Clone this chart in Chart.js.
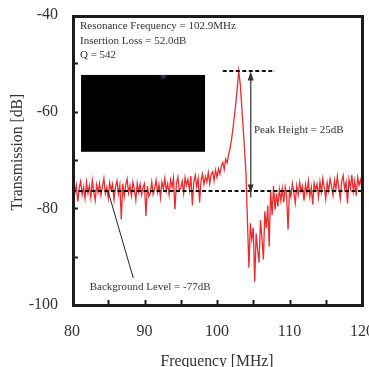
<!DOCTYPE html>
<html><head><meta charset="utf-8">
<script src="https://cdn.jsdelivr.net/npm/chart.js@4.4.0/dist/chart.umd.min.js"></script>
<style>html,body{margin:0;padding:0;overflow:hidden;background:#fff;width:369px;height:367px}
#wrap{position:absolute;left:0;top:0;width:390px;height:380px}</style>
</head><body><div id="wrap"><canvas id="c" width="390" height="380"></canvas></div>
<script>
// ---- data ----
const freqStartMHz = 80;
const freqStepMHz = 0.2;
const transmissionDb = [
  -77.5,-73.0,-76.8,-75.2,-78.6,-75.8,-74.4,-77.2,-75.6,-78.0,
  -74.6,-76.9,-75.3,-77.8,-74.2,-76.5,-78.4,-75.1,-76.7,-74.8,
  -77.3,-75.4,-73.8,-76.9,-75.6,-77.9,-74.7,-76.2,-75.0,-78.2,
  -75.5,-74.3,-77.0,-75.2,-82.3,-74.9,-77.6,-75.2,-73.9,-76.8,
  -75.3,-77.4,-74.6,-76.1,-78.3,-74.8,-76.6,-75.0,-77.2,-75.7,
  -74.9,-81.6,-75.4,-77.5,-76.8,-74.5,-77.1,-75.9,-74.2,-76.7,
  -75.1,-77.8,-74.6,-75.9,-73.8,-76.4,-74.9,-77.2,-74.1,-75.6,
  -73.7,-80.2,-75.0,-73.5,-76.3,-75.8,-74.4,-76.9,-73.6,-75.2,
  -74.0,-76.2,-73.3,-79.4,-74.6,-73.1,-75.5,-73.8,-78.8,-74.2,
  -72.9,-75.0,-73.4,-74.6,-72.6,-74.9,-73.0,-72.4,-74.3,-72.1,
  -73.6,-71.8,-72.9,-71.2,-70.5,-71.9,-69.8,-70.6,-68.9,-67.6,
  -65.8,-63.5,-61.0,-58.2,-55.0,-51.6,-54.2,-58.6,-63.2,-67.8,
  -72.8,-82.6,-92.3,-83.1,-86.4,-84.0,-95.2,-85.2,-88.6,-91.2,
  -82.4,-86.2,-90.6,-80.6,-84.1,-79.4,-87.9,-76.2,-81.4,-75.4,
  -80.3,-76.9,-79.6,-76.1,-78.4,-75.9,-78.8,-75.6,-77.3,-84.4,
  -76.2,-77.6,-74.9,-76.8,-78.9,-75.3,-77.2,-74.6,-76.5,-75.4,
  -78.4,-75.1,-76.9,-74.3,-77.6,-75.6,-79.2,-74.8,-76.3,-75.0,
  -77.7,-74.5,-76.6,-73.8,-75.9,-78.1,-74.7,-76.4,-73.9,-75.5,
  -77.3,-74.2,-76.0,-73.4,-75.7,-78.0,-74.4,-73.2,-76.1,-74.6,
  -79.0,-74.0,-75.8,-73.1,-76.5,-74.3,-77.4,-73.6,-75.2,-74.1,
  -76.0
];
const backgroundLevelDb = -76.4;
const peakLevelDb = -51.6;
const peakLineMHz = [100.8, 108.0];
const xRangeMHz = [80, 120];
const yRangeDb = [-100, -40];
const xLabelTicks = [80, 90, 100, 110, 120];
const yLabelTicks = [-40, -60, -80, -100];
const infoLines = ['Resonance Frequency = 102.9MHz', 'Insertion Loss = 52.0dB', 'Q = 542'];
const peakLabel = 'Peak Height = 25dB';
const backgroundLabel = 'Background Level = -77dB';

const spectrum = transmissionDb.map((v, i) => ({x: freqStartMHz + i * freqStepMHz, y: v}));

const SERIF = '"Liberation Serif", "Times New Roman", serif';

const overlay = {
  id: 'overlay',
  beforeDatasetsDraw(chart) {
    const {ctx, scales: {x, y}} = chart;
    // black inset image
    const x0 = x.getPixelForValue(81.25), x1 = x.getPixelForValue(98.35);
    const y0 = y.getPixelForValue(-52.4), y1 = y.getPixelForValue(-68.3);
    ctx.save();
    ctx.fillStyle = '#000';
    ctx.fillRect(x0, y0, x1 - x0, y1 - y0);
    const gx = x.getPixelForValue(92.6);
    const g = ctx.createRadialGradient(gx, y0 + 1, 0, gx, y0 + 1, 6);
    g.addColorStop(0, 'rgba(120,140,170,0.55)');
    g.addColorStop(1, 'rgba(0,0,0,0)');
    ctx.fillStyle = g;
    ctx.fillRect(gx - 7, y0, 14, 8);
    ctx.restore();
  },
  afterDatasetsDraw(chart) {
    const {ctx, scales: {x, y}} = chart;
    ctx.save();
    // double arrow for peak height
    const ax = x.getPixelForValue(104.65);
    const ayTop = y.getPixelForValue(peakLevelDb) + 0.5;
    const ayBot = y.getPixelForValue(backgroundLevelDb) + 1.5;
    ctx.strokeStyle = '#555';
    ctx.fillStyle = '#333';
    ctx.lineWidth = 1.5;
    ctx.beginPath();
    ctx.moveTo(ax, ayTop + 6);
    ctx.lineTo(ax, ayBot + 5);
    ctx.stroke();
    ctx.beginPath();
    ctx.moveTo(ax, ayTop); ctx.lineTo(ax - 3, ayTop + 9); ctx.lineTo(ax + 3, ayTop + 9); ctx.closePath(); ctx.fill();
    ctx.beginPath();
    ctx.moveTo(ax, ayBot); ctx.lineTo(ax - 3, ayBot - 8); ctx.lineTo(ax + 3, ayBot - 8); ctx.closePath(); ctx.fill();
    // leader line for background level
    ctx.strokeStyle = '#222';
    ctx.lineWidth = 1;
    ctx.beginPath();
    ctx.moveTo(x.getPixelForValue(85.0), y.getPixelForValue(-76.6));
    ctx.lineTo(x.getPixelForValue(88.45), y.getPixelForValue(-94.4));
    ctx.stroke();
    // texts
    ctx.fillStyle = '#333';
    ctx.font = '11px ' + SERIF;
    ctx.textAlign = 'left';
    ctx.textBaseline = 'middle';
    const tx = x.getPixelForValue(81.1);
    const lineYs = [-42.4, -45.3, -48.3];
    infoLines.forEach((t, i) => ctx.fillText(t, tx, y.getPixelForValue(lineYs[i])));
    ctx.fillText(peakLabel, x.getPixelForValue(105.1), y.getPixelForValue(-63.8));
    ctx.fillText(backgroundLabel, x.getPixelForValue(82.45), y.getPixelForValue(-96.2));
    ctx.restore();
  },
  afterDraw(chart) {
    const {ctx, chartArea: a, scales: {x, y}} = chart;
    ctx.save();
    ctx.strokeStyle = '#1c1c1c';
    ctx.lineWidth = 2;
    x.ticks.forEach(t => {
      if (t.value <= xRangeMHz[0] || t.value >= xRangeMHz[1]) return;
      const px = Math.round(x.getPixelForValue(t.value)) + 0.5;
      ctx.beginPath(); ctx.moveTo(px, a.bottom); ctx.lineTo(px, a.bottom - 5); ctx.stroke();
    });
    y.ticks.forEach(t => {
      if (t.value <= yRangeDb[0] || t.value >= yRangeDb[1]) return;
      const py = Math.round(y.getPixelForValue(t.value)) + 0.5;
      ctx.beginPath(); ctx.moveTo(a.left, py); ctx.lineTo(a.left + 6, py); ctx.stroke();
    });
    ctx.lineWidth = 3;
    ctx.strokeRect(a.left + 1.5, a.top + 1.5, a.right - a.left - 1, a.bottom - a.top - 1);
    ctx.restore();
  }
};

new Chart(document.getElementById('c'), {
  type: 'line',
  data: {
    datasets: [
      {
        data: [{x: xRangeMHz[0], y: backgroundLevelDb}, {x: xRangeMHz[1], y: backgroundLevelDb}],
        borderColor: '#111', borderWidth: 2, borderDash: [4, 2.5], pointRadius: 0, order: 1
      },
      {
        data: [{x: peakLineMHz[0], y: peakLevelDb}, {x: peakLineMHz[1], y: peakLevelDb}],
        borderColor: '#111', borderWidth: 2, borderDash: [4, 2.5], pointRadius: 0, order: 1
      },
      {
        data: spectrum,
        borderColor: '#ea2b2f', borderWidth: 1.3, pointRadius: 0, tension: 0, order: 2
      }
    ]
  },
  options: {
    responsive: false,
    animation: false,
    devicePixelRatio: 1,
    layout: {padding: {left: 0, top: 15, right: 28, bottom: 0}},
    plugins: {legend: {display: false}, tooltip: {enabled: false}},
    scales: {
      x: {
        type: 'linear', min: xRangeMHz[0], max: xRangeMHz[1],
        afterFit(s) { s.height = 75; s.paddingLeft = 0; s.paddingRight = 0; },
        grid: {display: false, drawTicks: false},
        border: {display: false},
        ticks: {
          stepSize: 5, autoSkip: false, maxRotation: 0, padding: 17, color: '#333',
          font: {family: SERIF, size: 16},
          callback: v => xLabelTicks.includes(v) ? String(v) : ''
        },
        title: {display: true, text: 'Frequency [MHz]', color: '#333',
          font: {family: SERIF, size: 15.7}, padding: {top: 0, bottom: 9}}
      },
      y: {
        type: 'linear', min: yRangeDb[0], max: yRangeDb[1],
        afterFit(s) { s.width = 72; s.paddingTop = 0; s.paddingBottom = 0; },
        grid: {display: false, drawTicks: false},
        border: {display: false},
        ticks: {
          stepSize: 10, autoSkip: false, padding: 14, color: '#333',
          font: {family: SERIF, size: 16},
          callback: v => yLabelTicks.includes(v) ? String(v) : ''
        },
        title: {display: true, text: '\u2003Transmission [dB]', color: '#333',
          font: {family: SERIF, size: 15.7}, padding: {top: 8, bottom: 0}}
      }
    }
  },
  plugins: [overlay]
});
</script></body></html>
